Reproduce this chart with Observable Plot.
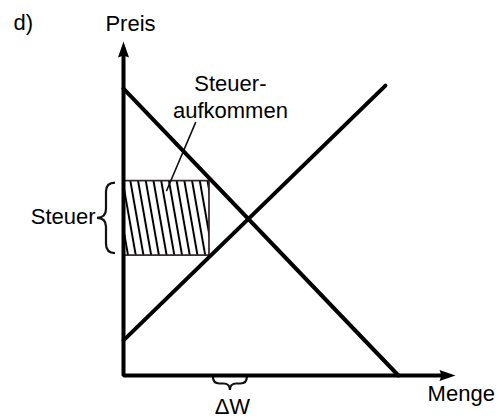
<!DOCTYPE html>
<html><head><meta charset="utf-8">
<script src="https://cdn.jsdelivr.net/npm/d3@7"></script>
<script src="https://cdn.jsdelivr.net/npm/@observablehq/plot@0.6"></script>
<style>body{margin:0;background:#fff}</style>
</head><body><div id="chart"></div>
<script>
// --- data (Menge / Preis units) ---
const demand = [{menge: 0, preis: 8.59}, {menge: 8.28, preis: 0}];
const supply = [{menge: 0, preis: 1.05}, {menge: 7.89, preis: 8.68}];
const axisPath = [{menge: 0, preis: 9.7}, {menge: 0, preis: 0}, {menge: 9.7, preis: 0}];
const arrowTips = [{menge: 0, preis: 10, angle: 0}, {menge: 10, preis: 0, angle: 90}];
const taxMenge = [0, 2.59];
const taxPreis = [3.59, 5.82];
const equilibriumMenge = 3.76;
const leader = [{menge: 2.17, preis: 7.57}, {menge: 1.3, preis: 5.54}];
const labelTexts = ["d)", "Preis", "Steuer-\naufkommen", "Steuer", "Menge", "ΔW"];
const labelMenge = [-3.31, 0.21, 3.22, -0.84, 9.16, 3.28];
const labelPreis = [10.33, 10.3, 7.72, 4.55, -0.75, -1.15];
const labelAnchor = ["start", "middle", "middle", "end", "start", "middle"];

const labels = labelTexts.map((t, i) => ({text: t, menge: labelMenge[i], preis: labelPreis[i], anchor: labelAnchor[i]}));
const taxRect = [{x1: taxMenge[0], x2: taxMenge[1], y1: taxPreis[0], y2: taxPreis[1]}];

const arrowHead = {
  draw(ctx) {
    ctx.moveTo(0, 0);
    ctx.lineTo(5.5, 16);
    ctx.lineTo(0, 14);
    ctx.lineTo(-5.5, 16);
    ctx.closePath();
  }
};

function bracePath(p1, p2, d) {
  const dx = p2[0] - p1[0], dy = p2[1] - p1[1];
  const L = Math.hypot(dx, dy);
  const u = [dx / L, dy / L], n = [-u[1], u[0]];
  const pt = (a, b) => [p1[0] + u[0] * a + n[0] * b, p1[1] + u[1] * a + n[1] * b];
  const h = d / 2, m = L / 2;
  const p = d3.path();
  p.moveTo(...pt(0, 0));
  p.quadraticCurveTo(...pt(0, h), ...pt(h, h));
  p.lineTo(...pt(m - h, h));
  p.quadraticCurveTo(...pt(m, h), ...pt(m, d));
  p.quadraticCurveTo(...pt(m, h), ...pt(m + h, h));
  p.lineTo(...pt(L - h, h));
  p.quadraticCurveTo(...pt(L, h), ...pt(L, 0));
  return p.toString();
}

function decorations(index, scales) {
  const g = d3.create("svg:g");
  const pat = g.append("defs").append("pattern")
    .attr("id", "hatch")
    .attr("patternUnits", "userSpaceOnUse")
    .attr("width", 7.6).attr("height", 30)
    .attr("patternTransform", "translate(2,0) rotate(-10)");
  pat.append("line").attr("x1", 3.8).attr("x2", 3.8).attr("y1", -5).attr("y2", 35)
    .attr("stroke", "#000").attr("stroke-width", 2);
  const {x, y} = scales;
  // Steuer brace (left of price axis)
  const bx = x(taxMenge[0]) - 8;
  g.append("path").attr("d", bracePath([bx, y(taxPreis[1]) + 2], [bx, y(taxPreis[0]) - 2], 18))
    .attr("fill", "none").attr("stroke", "#111").attr("stroke-width", 2.2);
  // ΔW brace (below quantity axis)
  const by = y(0) + 2;
  g.append("path").attr("d", bracePath([x(taxMenge[1]) + 4, by], [x(equilibriumMenge) - 1, by], 13))
    .attr("fill", "none").attr("stroke", "#111").attr("stroke-width", 2.2);
  return g.node();
}

const textOpts = {x: "menge", y: "preis", text: "text", lineAnchor: "bottom", lineHeight: 1.23, fontSize: 22, fill: "#000"};

const chart = Plot.plot({
  width: 499,
  height: 420,
  marginLeft: 123,
  marginRight: 44,
  marginTop: 41,
  marginBottom: 45,
  x: {domain: [0, 10], axis: null},
  y: {domain: [0, 10], axis: null},
  style: {fontFamily: "'Liberation Sans', Arial, sans-serif", background: "#fff"},
  marks: [
    Plot.rect(taxRect, {x1: "x1", x2: "x2", y1: "y1", y2: "y2", fill: "url(#hatch)", stroke: "#2e2424", strokeWidth: 1.7}),
    decorations,
    Plot.line(leader, {x: "menge", y: "preis", stroke: "#111", strokeWidth: 1.6}),
    Plot.line(demand, {x: "menge", y: "preis", stroke: "#000", strokeWidth: 4}),
    Plot.line(supply, {x: "menge", y: "preis", stroke: "#000", strokeWidth: 4}),
    Plot.line(axisPath, {x: "menge", y: "preis", stroke: "#000", strokeWidth: 4, strokeLinejoin: "miter", strokeLinecap: "butt"}),
    Plot.dot(arrowTips, {x: "menge", y: "preis", rotate: "angle", symbol: arrowHead, fill: "#000", stroke: "none"}),
    Plot.text(labels, {...textOpts, filter: (d) => d.anchor === "start", textAnchor: "start"}),
    Plot.text(labels, {...textOpts, filter: (d) => d.anchor === "middle", textAnchor: "middle"}),
    Plot.text(labels, {...textOpts, filter: (d) => d.anchor === "end", textAnchor: "end"})
  ]
});
document.getElementById("chart").append(chart);
</script>
</body></html>
